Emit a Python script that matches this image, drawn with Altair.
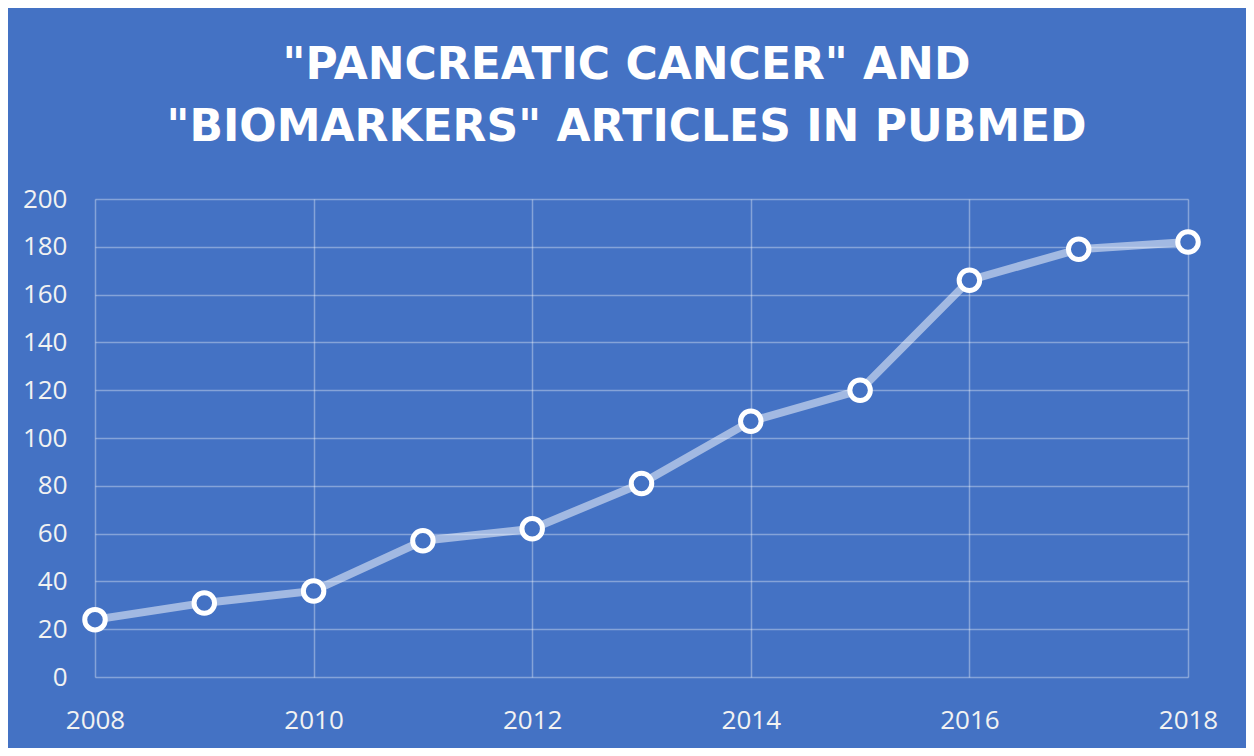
import altair as alt
import pandas as pd

years = [2008, 2009, 2010, 2011, 2012, 2013, 2014, 2015, 2016, 2017, 2018]
articles = [24, 31, 36, 57, 62, 81, 107, 120, 166, 179, 182]
title_lines = ['"PANCREATIC CANCER" AND', '"BIOMARKERS" ARTICLES IN PUBMED']
x_ticks = [2008, 2010, 2012, 2014, 2016, 2018]
y_ticks = [0, 20, 40, 60, 80, 100, 120, 140, 160, 180, 200]

df = pd.DataFrame({"year": years, "articles": articles})

BG = "#4472C4"
FONT = "Open Sans"

x = alt.X("year:Q",
          scale=alt.Scale(domain=[2008, 2018], nice=False, zero=False),
          axis=alt.Axis(values=x_ticks, format="d", title=None, grid=True,
                        domain=False, ticks=False, labelPadding=30,
                        labelFontSize=26, labelColor="#F2F2F2", labelFont=FONT,
                        gridColor="white", gridOpacity=0.35, gridWidth=1.5,
                        labelFlush=False))
y = alt.Y("articles:Q",
          scale=alt.Scale(domain=[0, 200], nice=False),
          axis=alt.Axis(values=y_ticks, title=None, grid=True, domain=False,
                        ticks=False, labelPadding=28, labelFontSize=26,
                        labelColor="#F2F2F2", labelFont=FONT,
                        gridColor="white", gridOpacity=0.35, gridWidth=1.5))

line = alt.Chart(df).mark_line(color="white", opacity=0.5, strokeWidth=8).encode(x=x, y=y)
pts = alt.Chart(df).mark_point(shape="circle", filled=False, fill=BG, fillOpacity=1,
                               stroke="white", strokeWidth=5, size=420,
                               opacity=1).encode(x=x, y=y)

chart = (line + pts).properties(
    width=1093, height=478,
    autosize=alt.AutoSizeParams(type="none"),
    padding={"left": 87, "top": 191, "right": 58, "bottom": 71},
    background=BG,
    title=alt.TitleParams(text=title_lines, anchor="middle", frame="group",
                          font="DejaVu Sans", fontSize=44, fontWeight="bold",
                          color="white", lineHeight=62, offset=36, dx=-15),
).configure_view(stroke=None)

chart.save("out.html", embed_options={"renderer": "svg", "actions": False})
